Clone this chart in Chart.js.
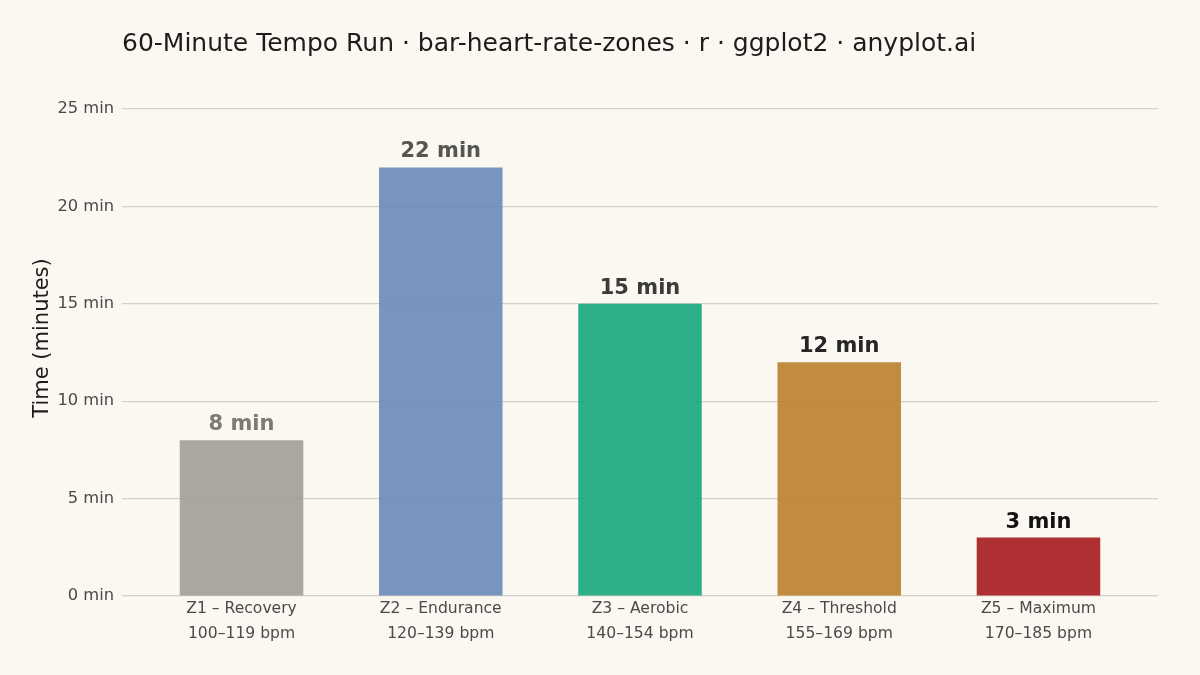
<!DOCTYPE html>
<html><head><meta charset="utf-8">
<script src="https://cdn.jsdelivr.net/npm/chart.js@4/dist/chart.umd.min.js"></script>
<style>html,body{margin:0;padding:0;background:#faf8f1;}#wrap{width:1200px;height:675px;}</style>
</head><body><div id="wrap"><canvas id="c" width="1200" height="675"></canvas></div>
<script>
const zones = ["Z1 – Recovery","Z2 – Endurance","Z3 – Aerobic","Z4 – Threshold","Z5 – Maximum"];
const bpmRanges = ["100–119 bpm","120–139 bpm","140–154 bpm","155–169 bpm","170–185 bpm"];
const minutes = [8,22,15,12,3];
const barColors = ["rgba(161,157,149,0.9)","rgba(108,137,183,0.9)","rgba(23,166,124,0.9)","rgba(186,126,44,0.9)","rgba(166,26,30,0.9)"];
const labelColors = ["#7b7a75","#555552","#3b3b39","#262626","#121212"];
const yTicks = [0,5,10,15,20,25];
const titleText = "60-Minute Tempo Run · bar-heart-rate-zones · r · ggplot2 · anyplot.ai";
const yTitle = "Time (minutes)";
const FONT = "'DejaVu Sans', sans-serif";

const overlay = {
  id:'overlay',
  afterDatasetsDraw(chart){
    const ctx = chart.ctx;
    const meta = chart.getDatasetMeta(0);
    ctx.save();
    ctx.font = "bold 21px " + FONT;
    ctx.textAlign = 'center';
    ctx.textBaseline = 'bottom';
    meta.data.forEach((bar,i)=>{
      ctx.fillStyle = labelColors[i];
      ctx.fillText(minutes[i] + " min", bar.x, bar.y - 5);
    });
    ctx.restore();
  },
  afterDraw(chart){
    const ctx = chart.ctx, a = chart.chartArea;
    ctx.save();
    ctx.font = "25px " + FONT;
    ctx.fillStyle = "#1c1c1c";
    ctx.textAlign = 'left';
    ctx.textBaseline = 'middle';
    ctx.fillText(titleText, a.left, 44);
    ctx.translate(43, 338);
    ctx.rotate(-Math.PI/2);
    ctx.textAlign = 'center';
    ctx.font = "21px " + FONT;
    ctx.fillStyle = "#1c1c1c";
    ctx.fillText(yTitle, 0, 0);
    ctx.restore();
  },
  beforeDraw(chart){
    const ctx = chart.ctx;
    ctx.save();
    ctx.fillStyle = '#faf8f1';
    ctx.fillRect(0,0,chart.width,chart.height);
    ctx.restore();
  }
};

new Chart(document.getElementById('c'), {
  type:'bar',
  data:{
    datasets:[{
      data: minutes.map((v,i)=>({x:i,y:v})),
      backgroundColor: barColors,
      borderColor: barColors,
      borderWidth: 0,
      barPercentage: 0.62,
      categoryPercentage: 1.0
    }]
  },
  options:{
    responsive:false,
    animation:false,
    devicePixelRatio:1,
    layout:{padding:{top:109,right:42,left:0,bottom:0}},
    plugins:{legend:{display:false},tooltip:{enabled:false},title:{display:false}},
    scales:{
      x:{
        type:'linear', min:-0.6, max:4.6, offset:false,
        afterBuildTicks(s){ s.ticks = zones.map((z,i)=>({value:i})); },
        afterFit(s){ s.height = 79; },
        grid:{display:false, drawTicks:false},
        border:{display:false},
        ticks:{
          autoSkip:false, maxRotation:0, padding:0,
          color:'#4a4a4a', font:{family:FONT,size:15.6,lineHeight:1.6},
          callback:(v)=> [zones[v], bpmRanges[v]]
        }
      },
      y:{
        min:0, max:25,
        afterBuildTicks(s){ s.ticks = yTicks.map(v=>({value:v})); },
        afterFit(s){ s.width = 122; },
        grid:{color:'#d3d0c7', lineWidth:1.2, drawTicks:false},
        border:{display:false},
        ticks:{padding:8, color:'#4a4a4a', font:{family:FONT,size:16.3}, callback:(v)=> v + " min"}
      }
    }
  },
  plugins:[overlay]
});
</script></body></html>
